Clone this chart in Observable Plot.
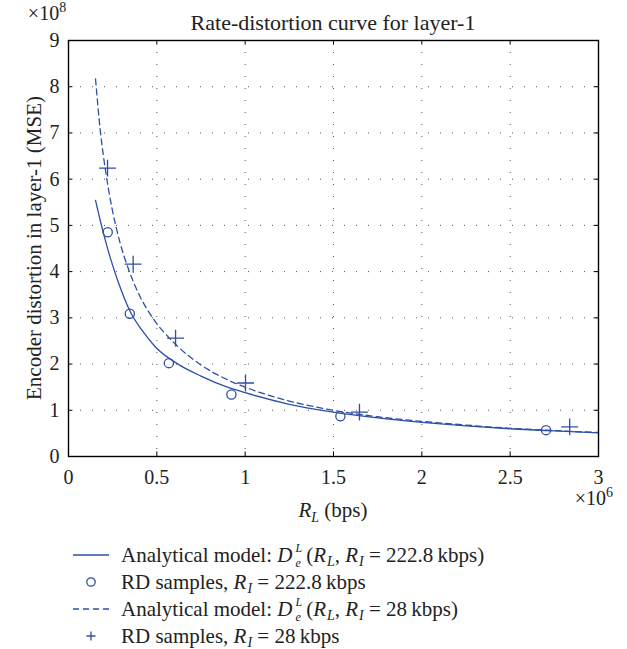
<!DOCTYPE html>
<html><head><meta charset="utf-8">
<script src="https://cdn.jsdelivr.net/npm/d3@7"></script>
<script src="https://cdn.jsdelivr.net/npm/@observablehq/plot@0.6"></script>
<style>
body{margin:0;background:#fff;font-family:"Liberation Serif","Times New Roman",serif;color:#222;}
#wrap{position:relative;width:627px;height:649px;overflow:hidden;}
#chart{position:absolute;left:0;top:0;}
.row{position:absolute;left:0;height:28px;line-height:28px;font-size:21px;white-space:nowrap;}
.row svg{position:absolute;left:70px;top:4px;}
.row .t{position:absolute;left:121px;top:0;}
.ss{display:inline-block;vertical-align:middle;font-size:12px;text-align:left;margin:0 4px 0 3px;position:relative;top:-1px;}
.ss span{display:block;line-height:15px;height:15px;}
sub{font-size:14px;vertical-align:-4px;line-height:0;margin-left:1px;}
</style></head><body>
<div id="wrap"><div id="chart"></div><div id="legend"></div></div>
<script>
// ---- data (x in bps, y in MSE) ----
const xTicks = [0, 0.5e6, 1e6, 1.5e6, 2e6, 2.5e6, 3e6];
const yTicks = [0, 1e8, 2e8, 3e8, 4e8, 5e8, 6e8, 7e8, 8e8, 9e8];

// RD samples, R_I = 222.8 kbps (circles)
const sampleA_RL = [0.222e6, 0.347e6, 0.568e6, 0.922e6, 1.539e6, 2.703e6];
const sampleA_D  = [4.85e8, 3.09e8, 2.02e8, 1.34e8, 0.87e8, 0.57e8];
// RD samples, R_I = 28 kbps (plus)
const sampleB_RL = [0.221e6, 0.366e6, 0.606e6, 1.002e6, 1.647e6, 2.837e6];
const sampleB_D  = [6.24e8, 4.16e8, 2.56e8, 1.59e8, 0.96e8, 0.64e8];

// Analytical model curve, R_I = 222.8 kbps (solid)
const modelA_RL = [0.153e6, 0.18e6, 0.209e6, 0.238e6, 0.28e6, 0.351e6, 0.42e6, 0.492e6, 0.615e6, 0.75e6, 0.9e6, 1.0e6, 1.25e6, 1.5e6, 1.75e6, 2.0e6, 2.25e6, 2.5e6, 2.75e6, 3.0e6];
const modelA_D  = [5.54e8, 5.1e8, 4.67e8, 4.28e8, 3.79e8, 3.12e8, 2.71e8, 2.37e8, 2.01e8, 1.74e8, 1.50e8, 1.38e8, 1.13e8, 0.96e8, 0.835e8, 0.74e8, 0.662e8, 0.60e8, 0.553e8, 0.51e8];
// Analytical model curve, R_I = 28 kbps (dashed)
const modelB_RL = [0.153e6, 0.18e6, 0.213e6, 0.25e6, 0.29e6, 0.34e6, 0.4e6, 0.48e6, 0.6e6, 0.75e6, 0.9e6, 1.0e6, 1.25e6, 1.5e6, 1.75e6, 2.0e6, 2.25e6, 2.5e6, 2.75e6, 3.0e6];
const modelB_D  = [8.17e8, 7.05e8, 6.1e8, 5.3e8, 4.65e8, 4.05e8, 3.5e8, 2.98e8, 2.45e8, 1.98e8, 1.66e8, 1.5e8, 1.2e8, 1.0e8, 0.86e8, 0.76e8, 0.68e8, 0.61e8, 0.56e8, 0.52e8];

const blue = "#2f4fa6";
const zip = (xs, ys) => xs.map((x, i) => ({x, y: ys[i]}));
const sA = zip(sampleA_RL, sampleA_D), sB = zip(sampleB_RL, sampleB_D);
const mA = zip(modelA_RL, modelA_D), mB = zip(modelB_RL, modelB_D);
const xInner = xTicks.slice(1, -1), yInner = yTicks.slice(1, -1);

const W = 627, H = 530, ML = 68, MR = 29, MT = 40, MB = 74;
const chart = Plot.plot({
  width: W, height: H,
  marginLeft: ML, marginRight: MR, marginTop: MT, marginBottom: MB,
  style: "font-family:'Liberation Serif','Times New Roman',serif;font-size:20px;color:#222;background:#fff;overflow:visible;",
  x: {domain: [0, 3e6]},
  y: {domain: [0, 9e8]},
  marks: [
    Plot.gridX(xInner, {stroke: "#555", strokeOpacity: 1, strokeWidth: 1, strokeDasharray: "1,11"}),
    Plot.gridY(yInner, {stroke: "#555", strokeOpacity: 1, strokeWidth: 1, strokeDasharray: "1,11"}),
    Plot.ruleX(xInner, {y1: 0, y2: 0.1e8, stroke: "#000"}),
    Plot.ruleX(xInner, {y1: 9e8, y2: 8.9e8, stroke: "#000"}),
    Plot.ruleY(yInner, {x1: 0, x2: 0.025e6, stroke: "#000"}),
    Plot.ruleY(yInner, {x1: 3e6, x2: 2.975e6, stroke: "#000"}),
    Plot.line(mA, {x: "x", y: "y", stroke: blue, strokeWidth: 1.3, curve: "monotone-x"}),
    Plot.line(mB, {x: "x", y: "y", stroke: blue, strokeWidth: 1.3, strokeDasharray: "6,4", curve: "monotone-x"}),
    Plot.dot(sA, {x: "x", y: "y", r: 4.6, stroke: blue, strokeWidth: 1.3, fill: "none"}),
    Plot.dot(sB, {x: "x", y: "y", r: 5.5, symbol: "plus", stroke: blue, strokeWidth: 1.3}),
    Plot.frame({stroke: "#000", strokeWidth: 1.4}),
    Plot.axisX(xTicks, {anchor: "bottom", tickSize: 0, tickPadding: 13, tickFormat: d => String(d / 1e6), label: null, fill: "#222"}),
    Plot.axisY(yTicks, {anchor: "left", tickSize: 0, tickPadding: 9, tickFormat: d => String(d / 1e8), label: null, fill: "#222"})
  ]
});
document.getElementById("chart").appendChild(chart);

// text labels
const svg = d3.select(chart);
const g = svg.append("g").attr("fill", "#222").attr("font-size", 21);
g.append("text").attr("x", (ML + W - MR) / 2).attr("y", 30).attr("font-size", 22).attr("text-anchor", "middle").text("Rate-distortion curve for layer-1");
const e8 = g.append("text").attr("x", 47).attr("y", 20).attr("font-size", 20);
e8.append("tspan").text("×10");
e8.append("tspan").attr("dy", -8).attr("font-size", 14).text("8");
g.append("text").attr("transform", `translate(41,${(MT + H - MB) / 2}) rotate(-90)`).attr("text-anchor", "middle").text("Encoder distortion in layer-1 (MSE)");
const xl = g.append("text").attr("x", (ML + W - MR) / 2).attr("y", 517).attr("text-anchor", "middle");
xl.append("tspan").attr("font-style", "italic").text("R");
xl.append("tspan").attr("font-style", "italic").attr("font-size", 14).attr("dy", 5).text("L");
xl.append("tspan").attr("dy", -5).text(" (bps)");
const e6 = g.append("text").attr("x", 613).attr("y", 505).attr("text-anchor", "end").attr("font-size", 20);
e6.append("tspan").text("×10");
e6.append("tspan").attr("dy", -8).attr("font-size", 14).text("6");

// legend
const legendRows = [
  {sym: "solid", html: 'Analytical model: <i>D</i><span class="ss"><span><i>L</i></span><span><i>e</i></span></span>(<i>R</i><sub><i>L</i></sub>, <i>R</i><sub><i>I</i></sub> = 222.8&#8201;kbps)'},
  {sym: "circle", html: 'RD samples, <i>R</i><sub><i>I</i></sub> = 222.8&#8201;kbps'},
  {sym: "dashed", html: 'Analytical model: <i>D</i><span class="ss"><span><i>L</i></span><span><i>e</i></span></span>(<i>R</i><sub><i>L</i></sub>, <i>R</i><sub><i>I</i></sub> = 28&#8201;kbps)'},
  {sym: "plus", html: 'RD samples, <i>R</i><sub><i>I</i></sub> = 28&#8201;kbps'}
];
const rowCenters = [555, 582, 609, 636];
const leg = d3.select("#legend");
legendRows.forEach((r, i) => {
  const row = leg.append("div").attr("class", "row").style("top", (rowCenters[i] - 14) + "px");
  const s = row.append("svg").attr("width", 44).attr("height", 20);
  if (r.sym === "solid") s.append("line").attr("x1", 3).attr("x2", 39).attr("y1", 10).attr("y2", 10).attr("stroke", blue).attr("stroke-width", 1.3);
  if (r.sym === "dashed") s.append("line").attr("x1", 3).attr("x2", 39).attr("y1", 10).attr("y2", 10).attr("stroke", blue).attr("stroke-width", 1.3).attr("stroke-dasharray", "6,4");
  if (r.sym === "circle") s.append("circle").attr("cx", 21).attr("cy", 10).attr("r", 4.2).attr("fill", "none").attr("stroke", blue).attr("stroke-width", 1.3);
  if (r.sym === "plus") s.append("path").attr("d", "M21,5.5V14.5M16.5,10H25.5").attr("stroke", blue).attr("stroke-width", 1.3);
  row.append("span").attr("class", "t").html(r.html);
});
</script>
</body></html>
